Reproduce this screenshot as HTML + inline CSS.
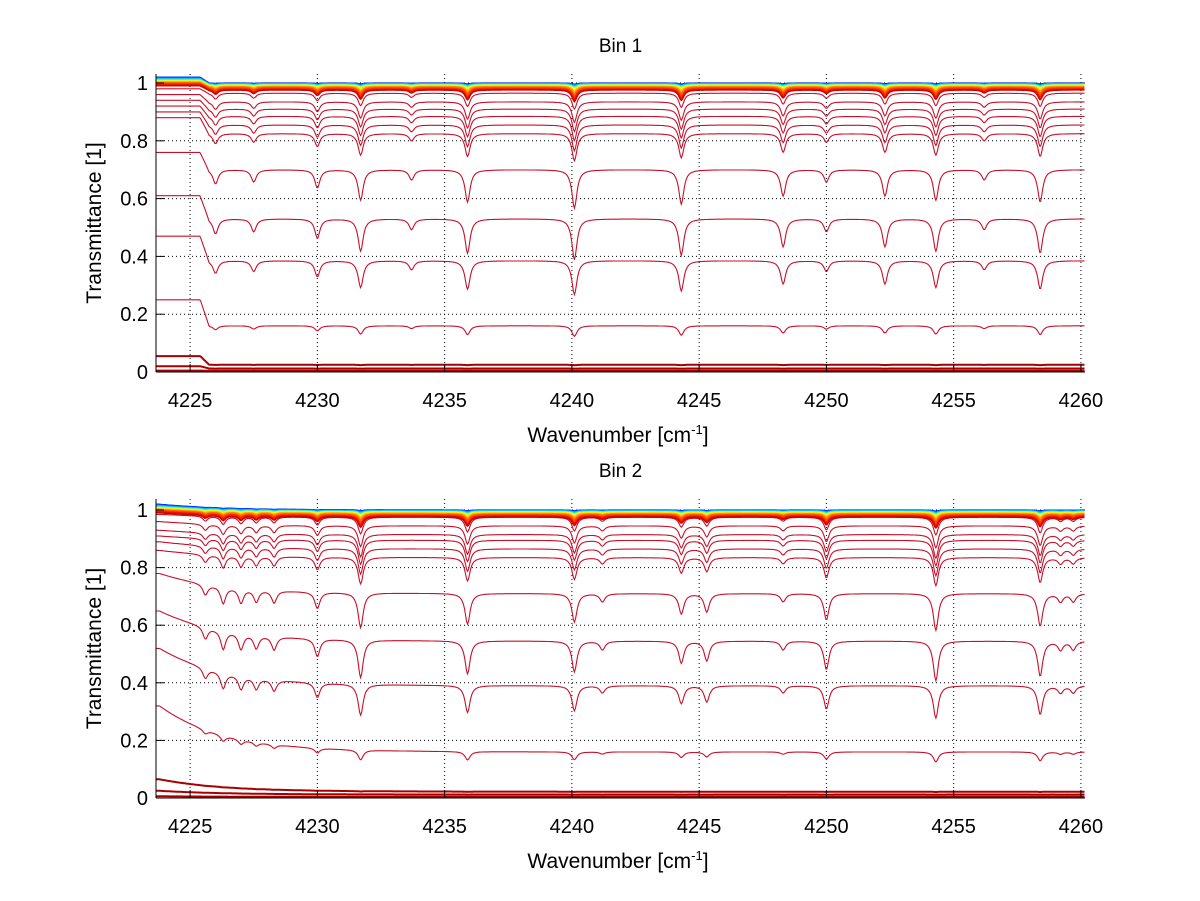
<!DOCTYPE html>
<html><head><meta charset="utf-8"><style>
html,body{margin:0;padding:0;background:#fff}
svg{display:block}
text{font-family:"Liberation Sans",sans-serif;fill:#000}
</style></head><body>
<svg id="chart" width="1200" height="901" viewBox="0 0 1200 901" xmlns="http://www.w3.org/2000/svg"></svg>
<script>
// ---------- data ----------
const xTicks = [4225, 4230, 4235, 4240, 4245, 4250, 4255, 4260];
const yTicks = [0, 0.2, 0.4, 0.6, 0.8, 1];
const yTickLabels = ["0", "0.2", "0.4", "0.6", "0.8", "1"];
const titles = ["Bin 1", "Bin 2"];

// Bin 1 absorption lines (center wavenumber, relative depth)
const bin1LineCenters = [4226.0, 4227.5, 4230.0, 4231.7, 4233.7, 4235.9, 4240.1, 4244.3, 4248.3, 4250.0, 4252.3, 4254.3, 4256.2, 4258.4];
const bin1LineDepths  = [0.07, 0.06, 0.09, 0.15, 0.05, 0.16, 0.19, 0.17, 0.13, 0.06, 0.13, 0.15, 0.05, 0.16];
// Bin 1 red curves: settled level, level at left edge, depth scale
const bin1Levels      = [0.965, 0.935, 0.91, 0.885, 0.855, 0.825, 0.70, 0.53, 0.385, 0.16, 0.025, 0.012, 0.004];
const bin1StartLevels = [0.98, 0.96, 0.94, 0.92, 0.90, 0.88, 0.76, 0.61, 0.47, 0.25, 0.055, 0.02, 0.005];
const bin1DepthScale  = [0.3, 0.4, 0.45, 0.5, 0.55, 0.6, 1.0, 1.4, 1.6, 1.2, 0.3, 0.1, 0];

// Bin 2 absorption lines
const bin2LineCenters = [4225.6, 4226.3, 4227.0, 4227.6, 4228.3, 4230.0, 4231.7, 4235.9, 4240.1, 4241.2, 4244.3, 4245.3, 4248.3, 4250.0, 4254.3, 4258.4, 4259.2, 4259.7];
const bin2LineDepths  = [0.05, 0.08, 0.07, 0.06, 0.06, 0.08, 0.17, 0.15, 0.14, 0.04, 0.10, 0.09, 0.04, 0.13, 0.18, 0.16, 0.04, 0.04];
const bin2Levels      = [0.975, 0.945, 0.915, 0.895, 0.865, 0.835, 0.71, 0.545, 0.39, 0.16, 0.022, 0.012, 0.004];
const bin2StartLevels = [0.985, 0.96, 0.93, 0.91, 0.89, 0.86, 0.78, 0.65, 0.52, 0.32, 0.065, 0.025, 0.006];
const bin2DepthScale  = [0.35, 0.45, 0.5, 0.55, 0.6, 0.65, 1.0, 1.4, 1.6, 1.2, 0.3, 0.1, 0];

// near-unity coloured curves (jet colours), settled / start levels
const topLevels      = [1.000, 0.998, 0.996, 0.994, 0.992, 0.990, 0.988, 0.986, 0.984, 0.982, 0.980, 0.978, 0.976];
const topStartLevels = [1.020, 1.016, 1.013, 1.010, 1.007, 1.005, 1.003, 1.001, 0.999, 0.997, 0.995, 0.993, 0.99];
const topColors      = ["#0030ff","#00a0ff","#20e0e0","#a0ff60","#ffff00","#ffd000","#ffa000","#ff7000","#ff5000","#ff3800","#f02000","#e01000","#d00000"];
const topDepthScale  = [0.02, 0.03, 0.04, 0.05, 0.07, 0.08, 0.1, 0.12, 0.14, 0.16, 0.18, 0.2, 0.22];

// ---------- layout ----------
const NS = "http://www.w3.org/2000/svg";
const svg = document.getElementById("chart");
const xMin = 4223.66, xMax = 4260.16;
const panels = [
  {left:156, right:1085, top:74, bottom:372, y0:372, y1:83,
   centers:bin1LineCenters, depths:bin1LineDepths, levels:bin1Levels, starts:bin1StartLevels, scales:bin1DepthScale, step:4225.4, smooth:0.35},
  {left:156, right:1085, top:499, bottom:798, y0:798, y1:510,
   centers:bin2LineCenters, depths:bin2LineDepths, levels:bin2Levels, starts:bin2StartLevels, scales:bin2DepthScale, step:4225.0, smooth:2.5}
];

function el(tag, attrs, parent){
  const e = document.createElementNS(NS, tag);
  for (const k in attrs) e.setAttribute(k, attrs[k]);
  (parent||svg).appendChild(e);
  return e;
}

panels.forEach((p, pi) => {
  const xs = v => p.left + (v - xMin) / (xMax - xMin) * (p.right - p.left);
  const ys = v => p.y0 - v * (p.y0 - p.y1);
  const g = el("g", {});
  
  

  xTicks.forEach(t => {
    const l = el("line", {x1:xs(t), x2:xs(t), y1:p.top, y2:p.bottom, stroke:"#000", "stroke-width":1, "stroke-dasharray":"1,3"}, g);
    
    
  });
  yTicks.forEach(t => {
    const l = el("line", {x1:p.left, x2:p.right, y1:ys(t), y2:ys(t), stroke:"#000", "stroke-width":1, "stroke-dasharray":"1,3"}, g);
    
    
  });

  function curve(level, start, scale){
    const pts = [];
    for (let x = xMin; x <= xMax + 1e-9; x += 0.04) {
      let base;
      if (pi === 0) {
        const t = Math.max(0, Math.min(1, (x - p.step) / p.smooth));
        base = start + (level - start) * t;
      } else {
        base = x < p.step - 1.2 ? start : level + (start - level) * Math.exp(-(x - (p.step - 1.2)) / p.smooth);
      }
      let a = 0;
      if (!(pi === 0 && x < p.step)) {
        for (let i = 0; i < p.centers.length; i++) {
          const d = (x - p.centers[i]) / 0.12;
          a += p.depths[i] / (1 + d * d);
        }
      }
      const v = base * (1 - Math.min(0.9, a * scale));
      pts.push(xs(x).toFixed(1) + "," + ys(v).toFixed(1));
    }
    return pts.join(" ");
  }

  for (let i = p.levels.length - 1; i >= 0; i--) {
    const low = p.levels[i] < 0.03;
    const c = el("polyline", {points:curve(p.levels[i], p.starts[i], p.scales[i]), fill:"none",
      stroke: low ? "#a80000" : "#c8102a", "stroke-width": low ? 2 : 1.1}, g);
    
    
  }
  for (let i = 0; i < topLevels.length; i++) {
    const c = el("polyline", {points:curve(topLevels[i], topStartLevels[i], topDepthScale[i]), fill:"none",
      stroke: topColors[i], "stroke-width":1.3}, g);
    
    
  }

  const ax = el("line", {x1:p.left, x2:p.left, y1:p.top, y2:p.bottom, stroke:"#000", "stroke-width":1}, g);
  
  
  const bx = el("line", {x1:p.left, x2:p.right, y1:p.bottom, y2:p.bottom, stroke:"#000", "stroke-width":1}, g);
  
  

  xTicks.forEach(t => {
    el("line", {x1:xs(t), x2:xs(t), y1:p.bottom, y2:p.bottom-8, stroke:"#000"}, g);
    const tx = el("text", {x:xs(t), y:p.bottom+35, "text-anchor":"middle", "font-size":20}, g);
    tx.textContent = t;
    
    
  });
  yTicks.forEach((t, i) => {
    el("line", {x1:p.left, x2:p.left+8, y1:ys(t), y2:ys(t), stroke:"#000"}, g);
    const tx = el("text", {x:p.left-8, y:ys(t)+7, "text-anchor":"end", "font-size":20}, g);
    tx.textContent = yTickLabels[i];
    
    
  });

  const ti = el("text", {x:(p.left+p.right)/2, y:p.top-22, "text-anchor":"middle", "font-size":19}, g);
  ti.textContent = titles[pi];
  
  

  const xl = el("text", {x:618, y:p.bottom+70, "text-anchor":"middle", "font-size":21}, g);
  xl.innerHTML = 'Wavenumber [cm<tspan dy="-8" font-size="13">-1</tspan><tspan dy="8">]</tspan>';
  
  

  const yc = (p.top + p.bottom) / 2;
  const yl = el("text", {x:101, y:yc, "text-anchor":"middle", "font-size":21, transform:"rotate(-90 101 " + yc + ")"}, g);
  yl.textContent = "Transmittance [1]";
  
  
});
</script>
</body></html>
